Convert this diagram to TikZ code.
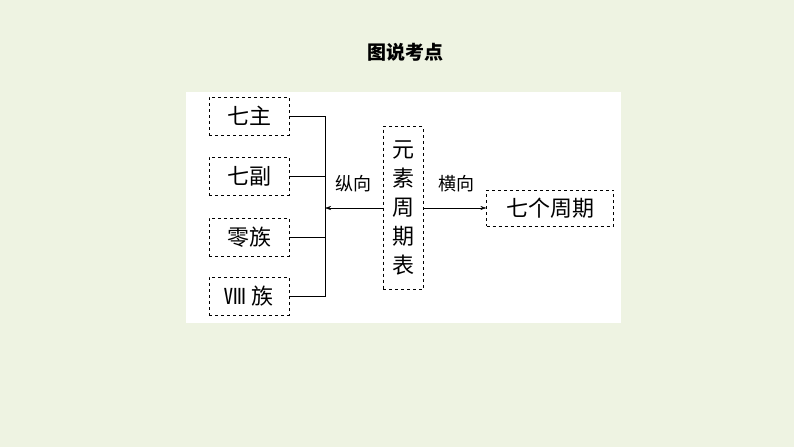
\documentclass[tikz,border=0pt]{standalone}
\usepackage{fontspec}
\newfontfamily\cjk{Noto Sans CJK SC}
\usetikzlibrary{arrows.meta}
\definecolor{bg}{HTML}{EEF3E2}
\tikzset{x=1pt,y=-1pt,
 dbox/.style={draw,dashed,thin,inner sep=0pt,font=\cjk\fontsize{22}{26}\selectfont},
 lbl/.style={font=\cjk\fontsize{18}{21}\selectfont},
 conn/.style={thin}}
\begin{document}
\begin{tikzpicture}
\fill[bg] (0,0) rectangle (794,447);
\useasboundingbox (0,0) rectangle (794,447);
\fill[white] (186,92) rectangle (621,323);
\node[font=\cjk\bfseries\fontsize{19}{22}\selectfont] (title) at (405,52) {图说考点};
\node[dbox,minimum width=80,minimum height=38] (a) at (249,116) {七主};
\node[dbox,minimum width=80,minimum height=38] (b) at (249,176) {七副};
\node[dbox,minimum width=80,minimum height=38] (c) at (249,237) {零族};
\node[dbox,minimum width=80,minimum height=38] (d) at (249,296) {Ⅷ 族};
\node[dbox,minimum width=40,minimum height=163,align=center,font=\cjk\fontsize{22}{29}\selectfont] (m) at (403,208) {元\\素\\周\\期\\表};
\node[dbox,minimum width=127,minimum height=36] (r) at (550,208) {七个周期};
\coordinate (ta) at (325,116);
\coordinate (td) at (325,296);
\coordinate (mid) at (325,208);
\draw[conn] (a.east) -- (ta) -- (td) -- (d.east);
\draw[conn] (b.east) -- (b.east -| ta);
\draw[conn] (c.east) -- (c.east -| ta);
\draw[conn,-{Stealth[length=6pt,width=4pt]}] (m.west |- mid) -- (mid);
\draw[conn,-{Stealth[length=6pt,width=4pt]}] (m.east |- r.west) -- (r.west);
\node[lbl] (l1) at (353,184) {纵向};
\node[lbl] (l2) at (456,184) {横向};
\end{tikzpicture}
\end{document}
